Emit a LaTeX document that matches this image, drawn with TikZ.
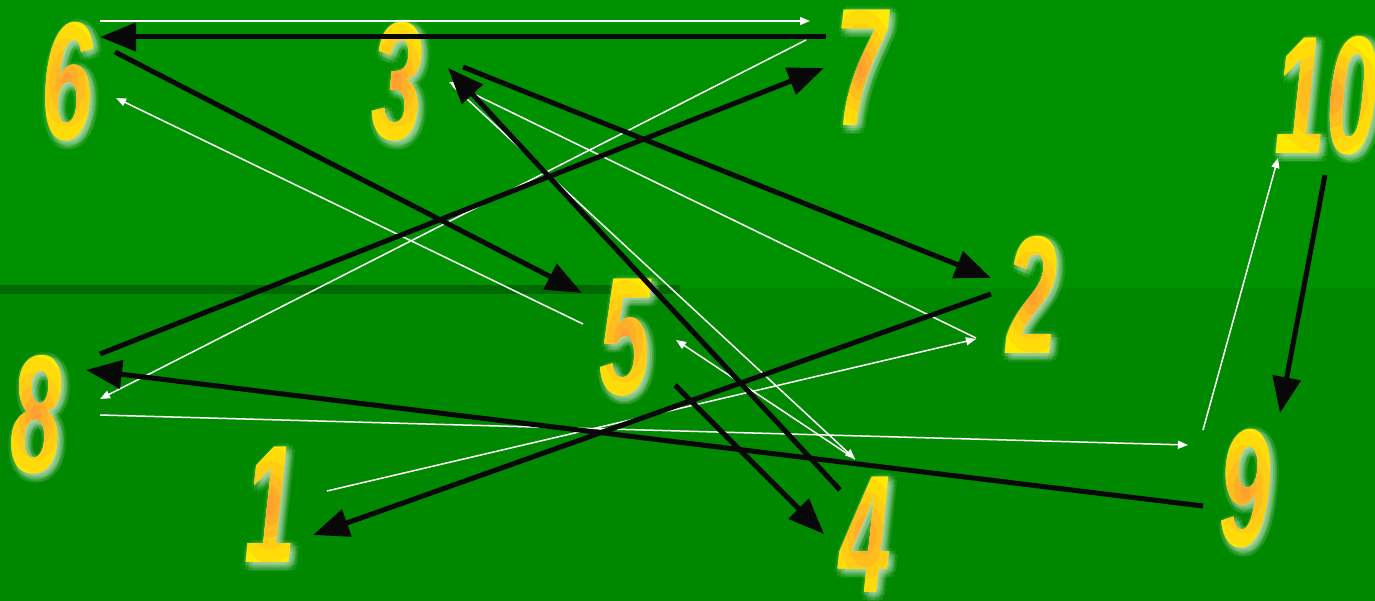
\documentclass[tikz,border=0pt]{standalone}
\usepackage{fontspec}
\usetikzlibrary{arrows.meta}
\newfontfamily\digitfont{Liberation Sans}
\definecolor{topgreen}{RGB}{0,145,0}
\definecolor{botgreen}{RGB}{0,137,0}
\definecolor{bandgreen}{RGB}{0,104,0}
\definecolor{digyellow}{RGB}{255,234,0}
\definecolor{digorange}{RGB}{255,160,48}
\definecolor{arrowblack}{RGB}{8,8,8}
\definecolor{glowcol}{RGB}{225,240,225}
\tikzset{
  numtext/.style={inner sep=0pt, font=\digitfont\bfseries\itshape\fontsize{168}{168}\selectfont},
  blackarrow/.style={draw=arrowblack, line width=5pt, -{Triangle[length=36pt,width=28pt]}},
  whitearrow/.style={draw=white, line width=1.5pt, -{Triangle[length=10pt,width=8pt]}},
}
\newcommand{\numdigit}[4]{% name, position, text, width factor
  \foreach \r in {3,6}{\foreach \a in {0,45,...,315}{%
    \node[numtext, text=glowcol, opacity=0.1, xshift={3pt+\r pt*cos(\a)}, yshift={-3pt+\r pt*sin(\a)}] at (#2) {\scalebox{0.55}[1]{#3}};}}
  \node[numtext, text=digyellow] (#1) at (#2) {\scalebox{0.55}[1]{#3}};
  \foreach \rx/\ry/\p in {34/58/20,26/44/40,18/32/60,11/20/80,5/10/100}{%
    \begin{scope}
      \clip (#2) ellipse ({\rx*#4} and \ry);
      \node[numtext, text=digorange!\p!digyellow] at (#2) {\scalebox{0.55}[1]{#3}};
    \end{scope}}
}
\begin{document}
\begin{tikzpicture}[x=1pt,y=-1pt]
\useasboundingbox (0,0) rectangle (1375,601);
\fill[topgreen] (0,0) rectangle (1375,288);
\fill[botgreen] (0,288) rectangle (1375,601);
\fill[bandgreen] (0,285) rectangle (680,294);

% digits
\numdigit{n6}{67,82}{6}{1}
\numdigit{n3}{397,82}{3}{1}
\numdigit{n7}{861,68}{7}{1}
\numdigit{n10}{1326,96}{10}{1.6}
\numdigit{n2}{1032,295}{2}{1}
\numdigit{n5}{625,338}{5}{1}
\numdigit{n8}{36,415}{8}{1}
\numdigit{n1}{270,505}{1}{1}
\numdigit{n4}{865,535}{4}{1}
\numdigit{n9}{1245,489}{9}{1}

% arrow end points
\coordinate (w67s) at (100,21);   \coordinate (w67e) at (810,21);
\coordinate (w56s) at (583,324);  \coordinate (w56e) at (116,98);
\coordinate (w78s) at (806,40);   \coordinate (w78e) at (100,399);
\coordinate (w23s) at (976,338);  \coordinate (w23e) at (449,82);
\coordinate (w34s) at (453,86);   \coordinate (w34e) at (855,459);
\coordinate (w45s) at (855,459);  \coordinate (w45e) at (676,340);
\coordinate (w89s) at (100,415);  \coordinate (w89e) at (1188,445);
\coordinate (w910s) at (1203,430); \coordinate (w910e) at (1278,158);
\coordinate (w12s) at (327,491);  \coordinate (w12e) at (976,339);

\coordinate (b76s) at (826,37);   \coordinate (b76e) at (100,37);
\coordinate (b65s) at (115,52);   \coordinate (b65e) at (582,293);
\coordinate (b87s) at (100,354);  \coordinate (b87e) at (824,68);
\coordinate (b32s) at (463,67);   \coordinate (b32e) at (991,278);
\coordinate (b43s) at (840,490);  \coordinate (b43e) at (448,68);
\coordinate (b21s) at (991,294);  \coordinate (b21e) at (313,535);
\coordinate (b98s) at (1203,506); \coordinate (b98e) at (86,370);
\coordinate (b54s) at (675,385);  \coordinate (b54e) at (824,534);
\coordinate (b109s) at (1325,175); \coordinate (b109e) at (1280,413);

% white arrows
\draw[whitearrow] (w67s) -- (w67e);
\draw[whitearrow] (w56s) -- (w56e);
\draw[whitearrow] (w78s) -- (w78e);
\draw[whitearrow] (w23s) -- (w23e);
\draw[whitearrow] (w34s) -- (w34e);
\draw[whitearrow] (w45s) -- (w45e);
\draw[whitearrow] (w89s) -- (w89e);
\draw[whitearrow] (w910s) -- (w910e);
\draw[whitearrow] (w12s) -- (w12e);

% black arrows
\draw[blackarrow] (b76s) -- (b76e);
\draw[blackarrow] (b65s) -- (b65e);
\draw[blackarrow] (b87s) -- (b87e);
\draw[blackarrow] (b32s) -- (b32e);
\draw[blackarrow] (b43s) -- (b43e);
\draw[blackarrow] (b21s) -- (b21e);
\draw[blackarrow] (b98s) -- (b98e);
\draw[blackarrow] (b54s) -- (b54e);
\draw[blackarrow] (b109s) -- (b109e);
\end{tikzpicture}
\end{document}
